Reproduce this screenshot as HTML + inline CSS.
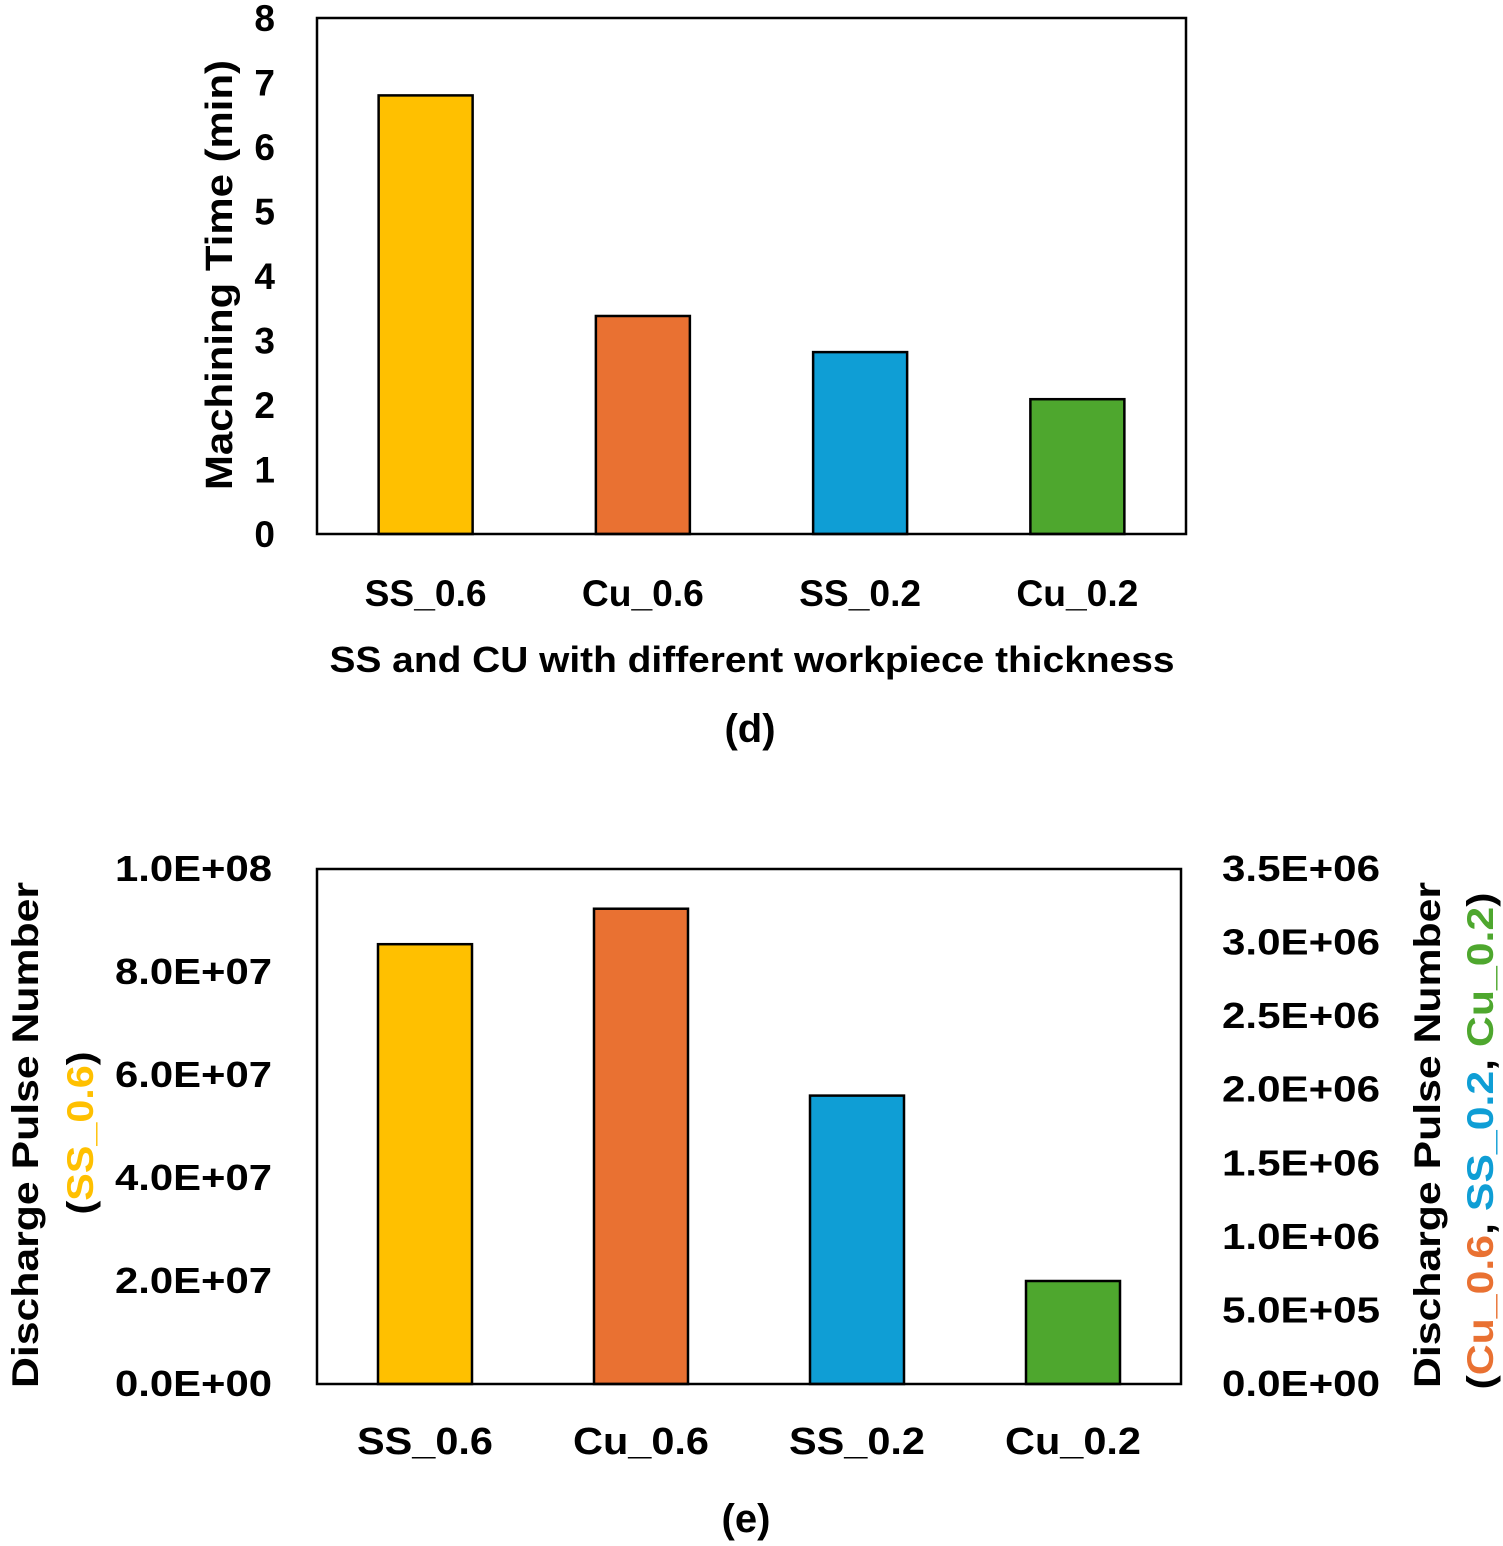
<!DOCTYPE html>
<html><head><meta charset="utf-8"><style>
html,body{margin:0;padding:0;background:#fff;}
svg{display:block;font-family:"Liberation Sans",sans-serif;font-weight:bold;}
</style></head><body>
<svg id="root" width="1503" height="1546" viewBox="0 0 1503 1546"></svg>
<script>
const categories=["SS_0.6","Cu_0.6","SS_0.2","Cu_0.2"];
const colors=["#FFC000","#E97132","#0F9ED5","#4EA72E"];
const timeValues=[6.8,3.38,2.82,2.09];
const timeTicks=[0,1,2,3,4,5,6,7,8];
const pulseSS=[8.54e7];
const pulseOthers=[3.23e6,1.96e6,0.70e6];
const leftTicks=["0.0E+00","2.0E+07","4.0E+07","6.0E+07","8.0E+07","1.0E+08"];
const leftTickVals=[0,2e7,4e7,6e7,8e7,1e8];
const rightTicks=["0.0E+00","5.0E+05","1.0E+06","1.5E+06","2.0E+06","2.5E+06","3.0E+06","3.5E+06"];
const rightTickVals=[0,5e5,1e6,1.5e6,2e6,2.5e6,3e6,3.5e6];

const NS="http://www.w3.org/2000/svg";
const root=document.getElementById('root');
function mk(tag,attrs,parent,text){const e=document.createElementNS(NS,tag);for(const k in attrs)e.setAttribute(k,attrs[k]);if(text!==undefined)e.textContent=text;(parent||root).appendChild(e);return e;}

// Chart d
const d={x0:317,x1:1186,y0:534,y1:18};
const ydD=v=>d.y0-(v/8)*(d.y0-d.y1);
const xD=i=>d.x0+(i+0.5)*(d.x1-d.x0)/4;
const gD=mk('g',{});


timeValues.forEach((v,i)=>{
  const r=mk('rect',{x:xD(i)-47,y:ydD(v),width:94,height:d.y0-ydD(v),fill:colors[i],stroke:'#000','stroke-width':2.5},gD);
  
  
});
const fD=mk('rect',{x:d.x0,y:d.y1,width:d.x1-d.x0,height:d.y0-d.y1,fill:'none',stroke:'#000','stroke-width':2.5},gD);


timeTicks.forEach(t=>{
  const e=mk('text',{x:275,y:ydD(t)+13,'text-anchor':'end','font-size':37},gD,String(t));
  
  
});
categories.forEach((c,i)=>{
  const e=mk('text',{x:xD(i),y:606,'text-anchor':'middle','font-size':37,textLength:122,lengthAdjust:'spacingAndGlyphs'},gD,c);
  
  
});
let t=mk('text',{x:752,y:672,'text-anchor':'middle','font-size':36,textLength:845,lengthAdjust:'spacingAndGlyphs'},gD,'SS and CU with different workpiece thickness');

t=mk('text',{x:0,y:0,'text-anchor':'middle','font-size':38,textLength:430,lengthAdjust:'spacingAndGlyphs',transform:'translate(232,275) rotate(-90)'},gD,'Machining Time (min)');

t=mk('text',{x:750,y:742,'text-anchor':'middle','font-size':40},gD,'(d)');


// Chart e
const e2={x0:317,x1:1181,y0:1384,y1:869};
const yL=v=>e2.y0-(v/1e8)*(e2.y0-e2.y1);
const yR=v=>e2.y0-(v/3.5e6)*(e2.y0-e2.y1);
const xE=i=>e2.x0+(i+0.5)*(e2.x1-e2.x0)/4;
const gE=mk('g',{});


const eVals=[{v:pulseSS[0],y:yL}].concat(pulseOthers.map(v=>({v,y:yR})));
eVals.forEach((o,i)=>{
  const top=o.y(o.v);
  const r=mk('rect',{x:xE(i)-47,y:top,width:94,height:e2.y0-top,fill:colors[i],stroke:'#000','stroke-width':2.5},gE);
  
  
});
const fE=mk('rect',{x:e2.x0,y:e2.y1,width:e2.x1-e2.x0,height:e2.y0-e2.y1,fill:'none',stroke:'#000','stroke-width':2.5},gE);


leftTicks.forEach((s,i)=>{
  const e=mk('text',{x:272,y:yL(leftTickVals[i])+12,'text-anchor':'end','font-size':36,textLength:157,lengthAdjust:'spacingAndGlyphs'},gE,s);
  
  
});
rightTicks.forEach((s,i)=>{
  const e=mk('text',{x:1222,y:yR(rightTickVals[i])+12,'text-anchor':'start','font-size':36,textLength:158,lengthAdjust:'spacingAndGlyphs'},gE,s);
  
  
});
categories.forEach((c,i)=>{
  const e=mk('text',{x:xE(i),y:1454,'text-anchor':'middle','font-size':38,textLength:136,lengthAdjust:'spacingAndGlyphs'},gE,c);
  
  
});
t=mk('text',{x:0,y:0,'text-anchor':'middle','font-size':37,textLength:506,lengthAdjust:'spacingAndGlyphs',transform:'translate(38,1135) rotate(-90)'},gE,'Discharge Pulse Number');

t=mk('text',{x:0,y:0,'text-anchor':'middle','font-size':37,textLength:163,lengthAdjust:'spacingAndGlyphs',transform:'translate(93,1133) rotate(-90)'},gE);

mk('tspan',{},t,'(');mk('tspan',{fill:colors[0]},t,'SS_0.6');mk('tspan',{},t,')');
t=mk('text',{x:0,y:0,'text-anchor':'middle','font-size':37,textLength:506,lengthAdjust:'spacingAndGlyphs',transform:'translate(1440,1135) rotate(-90)'},gE,'Discharge Pulse Number');

t=mk('text',{x:0,y:0,'text-anchor':'middle','font-size':37,textLength:497,lengthAdjust:'spacingAndGlyphs',transform:'translate(1493,1141) rotate(-90)'},gE);

mk('tspan',{},t,'(');mk('tspan',{fill:colors[1]},t,'Cu_0.6');mk('tspan',{},t,', ');
mk('tspan',{fill:colors[2]},t,'SS_0.2');mk('tspan',{},t,', ');mk('tspan',{fill:colors[3]},t,'Cu_0.2');mk('tspan',{},t,')');
t=mk('text',{x:746,y:1532,'text-anchor':'middle','font-size':40},gE,'(e)');

</script>
</body></html>
